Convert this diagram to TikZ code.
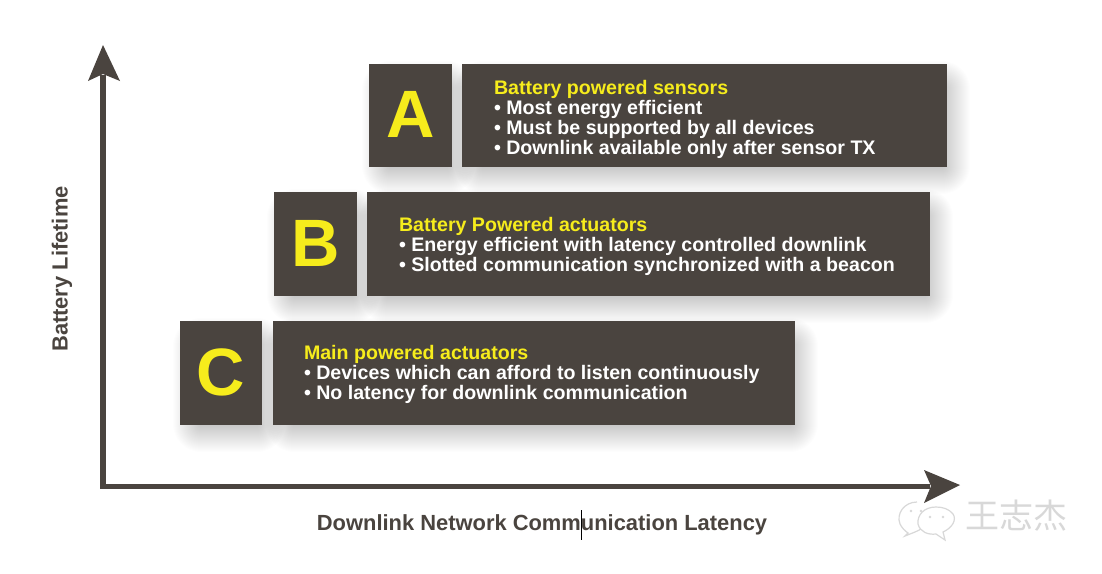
\documentclass[tikz,border=0pt]{standalone}
\usepackage{fontspec}
\setmainfont{Liberation Sans}
\newfontfamily\cjkfont{Noto Sans CJK SC}
\usetikzlibrary{arrows.meta,positioning}
\definecolor{boxc}{HTML}{4A443F}
\definecolor{yel}{HTML}{F6EC1C}
\definecolor{wm}{HTML}{D8D8D8}
\newcommand{\softshadow}[4]{%
  \foreach \e in {15,14,...,-12}{
    \fill[black,opacity=0.0085,rounded corners=\e pt+13pt]
      (#1+8-\e,#2+12-\e) rectangle (#3+8+\e,#4+12+\e);
  }}
\newcommand{\ltr}[1]{\raisebox{1.5pt}{#1}}
\tikzset{
  x=1pt,y=-1pt,
  panel/.style={fill=boxc,draw=none,inner sep=0pt,outer sep=0pt,anchor=north west},
  letter/.style={panel,text=yel,font=\bfseries\fontsize{67}{67}\selectfont,align=center},
  body/.style={anchor=north west,inner sep=0pt,outer sep=0pt,align=left,text=white,
     font=\bfseries\fontsize{19.6}{20}\selectfont},
  axis/.style={draw=boxc,line width=5.5pt},
  axtip/.style={fill=boxc,draw=none},
  axlabel/.style={text=boxc,font=\bfseries\fontsize{21.9}{26}\selectfont,inner sep=0pt},
}
\newcommand{\hd}[1]{\textcolor{yel}{#1}}
\begin{document}
\begin{tikzpicture}
\useasboundingbox (0,0) rectangle (1102,573);
\fill[white] (0,0) rectangle (1102,573);
% shadows
\softshadow{369}{64}{452}{167}
\softshadow{462}{64}{947}{167}
\softshadow{274}{192}{357}{296}
\softshadow{367}{192}{930}{296}
\softshadow{180}{321}{262}{425}
\softshadow{273}{321}{795}{425}
% letter boxes
\node[letter,minimum width=83pt,minimum height=103pt] (la) at (369,64) {\ltr{A}};
\node[letter,minimum width=83pt,minimum height=104pt] (lb) at (274,192) {\ltr{B}};
\node[letter,minimum width=82pt,minimum height=104pt] (lc) at (180,321) {\ltr{C}};
% text panels
\node[panel,minimum width=485pt,minimum height=103pt] (pa) at (462,64) {};
\node[panel,minimum width=563pt,minimum height=104pt] (pb) at (367,192) {};
\node[panel,minimum width=522pt,minimum height=104pt] (pc) at (273,321) {};
\node[body] (ta) at (494,80) {\hd{Battery powered sensors}\\• Most energy efficient\\• Must be supported by all devices\\• Downlink available only after sensor TX};
\node[body] (tb) at (399,217) {\hd{Battery Powered actuators}\\• Energy efficient with latency controlled downlink\\• Slotted communication synchronized with a beacon};
\node[body] (tc) at (304,345) {\hd{Main powered actuators}\\• Devices which can afford to listen continuously\\• No latency for downlink communication};
% axes
\coordinate (org) at (103,486.5);
\coordinate (ytop) at (103,45);
\coordinate (xend) at (960,485);
\draw[axis,line cap=butt] (100.3,486.5) -- (103,486.5) -- (103,75);
\draw[axis] (org) -- (930,486.5);
\fill[axtip] (ytop) -- (120,81) -- (103,74) -- (88,81) -- cycle;
\fill[axtip] (xend) -- (924,503) -- (931,486) -- (924,470) -- cycle;
\node[axlabel,rotate=90] (yl) at (62,269) {Battery Lifetime};
\node[axlabel] (xl) at (542,525) {Downlink Network Communication Latency};
\draw[black,line width=0.8pt] (581,510) -- (581,540);
% watermark
\node[text=wm,font=\cjkfont\fontsize{34}{34}\selectfont,inner sep=0pt] (wmt) at (1016,516) {王志杰};
\draw[wm,line width=1.2pt,fill=white] (917,502) .. controls (904,502) and (896,514) .. (900,524) .. controls (902,528) and (905,531) .. (908,533) -- (905,536) -- (915,532) .. controls (921,530) and (925,526) .. (925,520);
\draw[wm,line width=1.2pt,fill=white] (936,507) .. controls (924,507) and (917,515) .. (918,524) .. controls (920,532) and (928,535) .. (936,534) -- (945,540) -- (943,532) .. controls (952,528) and (957,520) .. (953,514) .. controls (949,509) and (943,507) .. (936,507) -- cycle;
\fill[wm] (930,517) circle (1.4pt) (943,517) circle (1.4pt) (911,511) circle (1.4pt) (921,511) circle (1.4pt);
\end{tikzpicture}
\end{document}
